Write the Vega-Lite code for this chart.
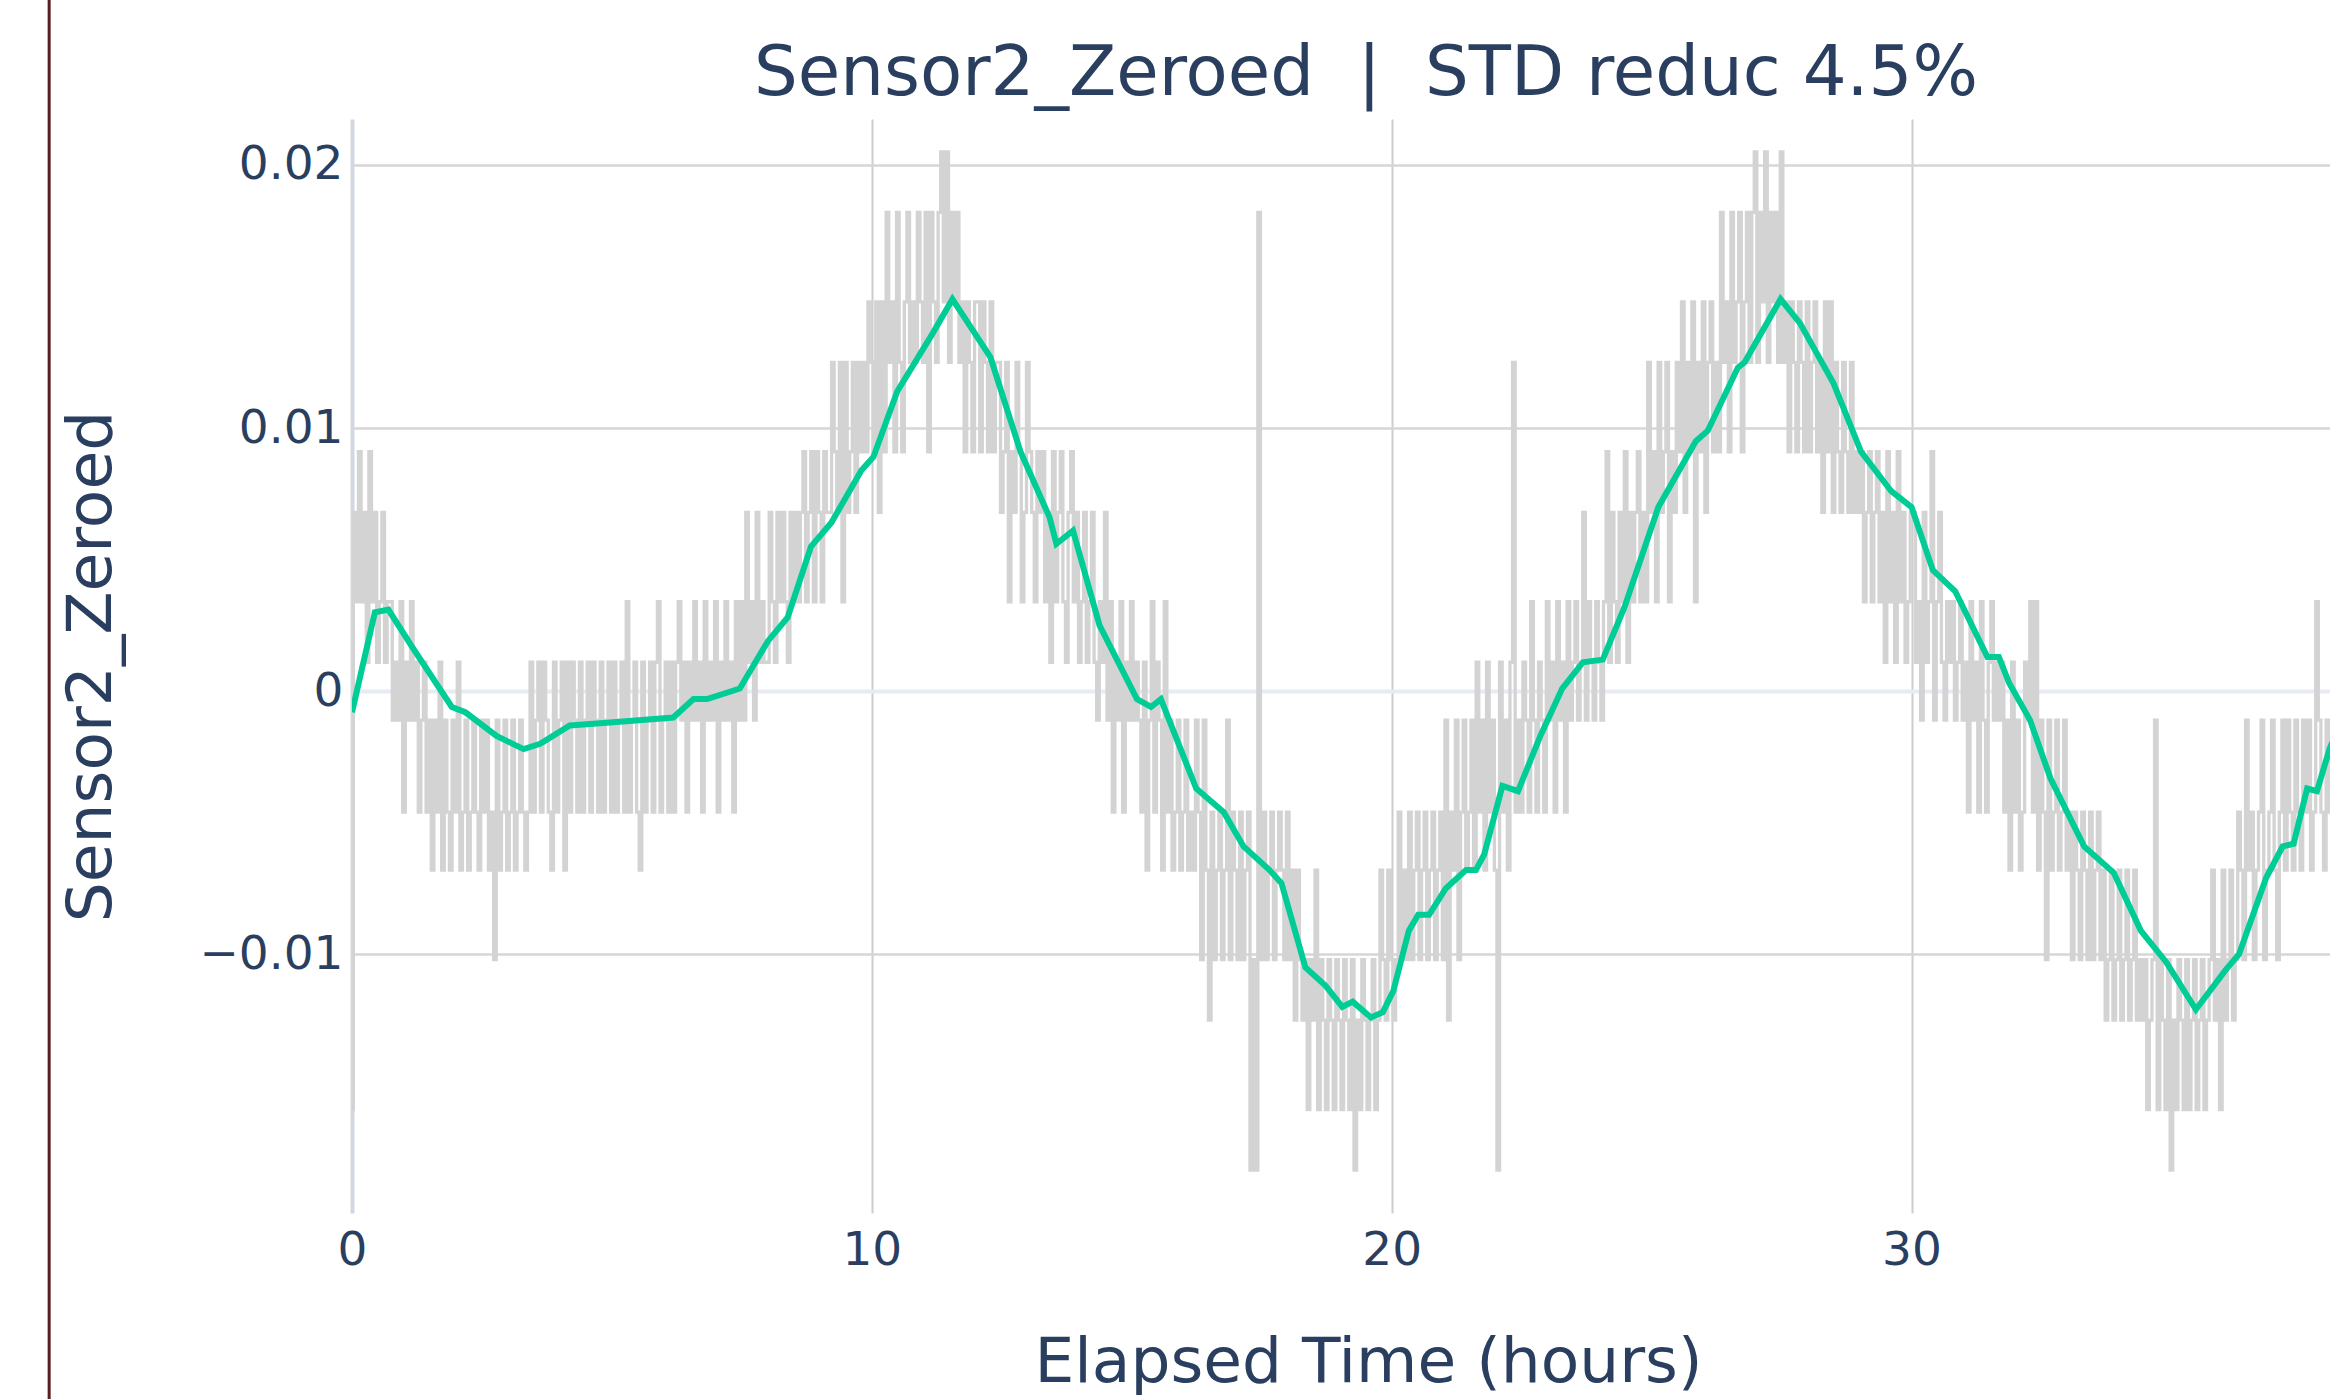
{
"$schema": "https://vega.github.io/schema/vega-lite/v6.json",
"width": 1978,
"height": 1094,
"autosize": {"type": "none"},
"padding": {"left": 352, "top": 119, "right": 0, "bottom": 186},
"background": "white",
"config": {"font": "DejaVu Sans", "view": {"stroke": null}},
"title": {"text": "Sensor2_Zeroed\u00a0\u00a0|\u00a0\u00a0STD reduc 4.5%", "fontSize": 69, "fontWeight": "normal", "color": "#2a3f5f", "font": "DejaVu Sans", "anchor": "middle", "dx": 25, "dy": 187, "baseline": "alphabetic", "offset": 21},
"datasets": {
"raw": [
{"t":0,"v":-0.0159},{"t":0.05,"v":0.0068},{"t":0.1,"v":0.0034},{"t":0.15,"v":0.0091},{"t":0.2,"v":0.0034},{"t":0.25,"v":0.0068},{"t":0.3,"v":0.0011},{"t":0.35,"v":0.0091},{"t":0.4,"v":0.0034},{"t":0.45,"v":0.0068},{"t":0.5,"v":0.0011},{"t":0.55,"v":0.0034},{"t":0.6,"v":0.0068},{"t":0.65,"v":0.0011},{"t":0.7,"v":0.0034},
{"t":0.75,"v":0.0034},{"t":0.8,"v":-0.0011},{"t":0.85,"v":0.0011},{"t":0.9,"v":-0.0011},{"t":0.95,"v":0.0034},{"t":1.0,"v":-0.0046},{"t":1.05,"v":0.0011},{"t":1.1,"v":-0.0011},{"t":1.15,"v":0.0034},{"t":1.2,"v":-0.0011},
{"t":1.25,"v":0.0011},{"t":1.3,"v":-0.0046},{"t":1.35,"v":-0.0011},{"t":1.4,"v":0.0011},{"t":1.45,"v":-0.0046},{"t":1.5,"v":-0.0011},{"t":1.55,"v":-0.0068},{"t":1.6,"v":-0.0011},{"t":1.65,"v":-0.0046},{"t":1.7,"v":0.0011},{"t":1.75,"v":-0.0068},{"t":1.8,"v":-0.0011},{"t":1.85,"v":-0.0046},{"t":1.9,"v":-0.0068},{"t":1.95,"v":-0.0011},{"t":2.0,"v":-0.0046},{"t":2.05,"v":0.0011},{"t":2.1,"v":-0.0068},{"t":2.15,"v":-0.0046},{"t":2.2,"v":-0.0011},{"t":2.25,"v":-0.0068},{"t":2.3,"v":-0.0046},{"t":2.35,"v":-0.0011},{"t":2.4,"v":-0.0046},{"t":2.45,"v":-0.0068},{"t":2.5,"v":-0.0011},{"t":2.55,"v":-0.0046},{"t":2.6,"v":-0.0011},{"t":2.65,"v":-0.0068},{"t":2.7,"v":-0.0046},{"t":2.75,"v":-0.0102},{"t":2.8,"v":-0.0011},{"t":2.85,"v":-0.0068},{"t":2.9,"v":-0.0046},{"t":2.95,"v":-0.0011},{"t":3.0,"v":-0.0068},{"t":3.05,"v":-0.0046},{"t":3.1,"v":-0.0011},{"t":3.15,"v":-0.0068},{"t":3.2,"v":-0.0046},{"t":3.25,"v":-0.0011},{"t":3.3,"v":-0.0046},{"t":3.35,"v":-0.0068},
{"t":3.4,"v":-0.0046},{"t":3.45,"v":0.0011},{"t":3.5,"v":-0.0046},{"t":3.55,"v":-0.0011},{"t":3.6,"v":0.0011},{"t":3.65,"v":-0.0046},{"t":3.7,"v":0.0011},{"t":3.75,"v":-0.0011},{"t":3.8,"v":-0.0046},{"t":3.85,"v":-0.0068},{"t":3.9,"v":0.0011},{"t":3.95,"v":-0.0046},{"t":4.0,"v":-0.0011},{"t":4.05,"v":0.0011},{"t":4.1,"v":-0.0068},{"t":4.15,"v":0.0011},{"t":4.2,"v":-0.0046},{"t":4.25,"v":0.0011},{"t":4.3,"v":-0.0011},{"t":4.35,"v":-0.0046},{"t":4.4,"v":0.0011},{"t":4.45,"v":-0.0046},{"t":4.5,"v":-0.0011},{"t":4.55,"v":0.0011},{"t":4.6,"v":-0.0046},{"t":4.65,"v":0.0011},{"t":4.7,"v":-0.0011},{"t":4.75,"v":-0.0046},{"t":4.8,"v":0.0011},{"t":4.85,"v":-0.0046},{"t":4.9,"v":-0.0011},{"t":4.95,"v":0.0011},{"t":5.0,"v":-0.0046},{"t":5.05,"v":0.0011},{"t":5.1,"v":-0.0046},{"t":5.15,"v":-0.0011},{"t":5.2,"v":0.0011},{"t":5.25,"v":-0.0046},{"t":5.3,"v":0.0034},{"t":5.35,"v":-0.0046},{"t":5.4,"v":-0.0011},{"t":5.45,"v":0.0011},{"t":5.5,"v":-0.0046},{"t":5.55,"v":-0.0068},{"t":5.6,"v":0.0011},{"t":5.65,"v":-0.0046},{"t":5.7,"v":-0.0011},{"t":5.75,"v":0.0011},{"t":5.8,"v":-0.0046},{"t":5.85,"v":0.0011},{"t":5.9,"v":0.0034},{"t":5.95,"v":-0.0046},{"t":6.0,"v":-0.0011},{"t":6.05,"v":0.0011},{"t":6.1,"v":-0.0046},{"t":6.15,"v":0.0011},{"t":6.2,"v":-0.0046},{"t":6.25,"v":0.0011},
{"t":6.3,"v":0.0034},{"t":6.35,"v":-0.0011},{"t":6.4,"v":0.0011},{"t":6.45,"v":-0.0046},{"t":6.5,"v":0.0011},{"t":6.55,"v":-0.0011},{"t":6.6,"v":0.0034},{"t":6.65,"v":-0.0011},{"t":6.7,"v":0.0011},{"t":6.75,"v":-0.0046},{"t":6.8,"v":0.0034},{"t":6.85,"v":-0.0011},{"t":6.9,"v":0.0011},{"t":6.95,"v":-0.0011},{"t":7.0,"v":0.0034},{"t":7.05,"v":-0.0046},{"t":7.1,"v":0.0011},{"t":7.15,"v":-0.0011},{"t":7.2,"v":0.0034},{"t":7.25,"v":-0.0011},{"t":7.3,"v":0.0011},{"t":7.35,"v":-0.0046},{"t":7.4,"v":0.0034},{"t":7.45,"v":-0.0011},
{"t":7.5,"v":0.0034},{"t":7.55,"v":-0.0011},{"t":7.6,"v":0.0068},{"t":7.65,"v":0.0011},{"t":7.7,"v":0.0034},{"t":7.75,"v":-0.0011},{"t":7.8,"v":0.0068},{"t":7.85,"v":0.0011},{"t":7.9,"v":0.0034},{"t":7.95,"v":0.0011},
{"t":8.0,"v":0.0011},{"t":8.05,"v":0.0068},{"t":8.1,"v":0.0034},{"t":8.15,"v":0.0011},{"t":8.2,"v":0.0068},{"t":8.25,"v":0.0034},{"t":8.3,"v":0.0068},{"t":8.35,"v":0.0034},{"t":8.4,"v":0.0011},{"t":8.45,"v":0.0068},{"t":8.5,"v":0.0034},{"t":8.55,"v":0.0068},{"t":8.6,"v":0.0034},{"t":8.65,"v":0.0068},
{"t":8.7,"v":0.0091},{"t":8.75,"v":0.0034},{"t":8.8,"v":0.0068},{"t":8.85,"v":0.0091},{"t":8.9,"v":0.0034},{"t":8.95,"v":0.0091},{"t":9.0,"v":0.0068},{"t":9.05,"v":0.0034},{"t":9.1,"v":0.0091},{"t":9.15,"v":0.0068},
{"t":9.2,"v":0.0068},{"t":9.25,"v":0.0125},{"t":9.3,"v":0.0091},{"t":9.35,"v":0.0068},{"t":9.4,"v":0.0125},{"t":9.45,"v":0.0034},{"t":9.5,"v":0.0125},{"t":9.55,"v":0.0068},{"t":9.6,"v":0.0091},{"t":9.65,"v":0.0125},{"t":9.7,"v":0.0068},{"t":9.75,"v":0.0125},{"t":9.8,"v":0.0091},{"t":9.85,"v":0.0125},
{"t":9.9,"v":0.0091},{"t":9.95,"v":0.0148},{"t":10.0,"v":0.0125},{"t":10.05,"v":0.0091},{"t":10.1,"v":0.0148},{"t":10.15,"v":0.0068},{"t":10.2,"v":0.0148},{"t":10.25,"v":0.0091},{"t":10.3,"v":0.0182},{"t":10.35,"v":0.0125},{"t":10.4,"v":0.0148},{"t":10.45,"v":0.0091},{"t":10.5,"v":0.0182},{"t":10.55,"v":0.0125},{"t":10.6,"v":0.0091},{"t":10.65,"v":0.0148},{"t":10.7,"v":0.0182},{"t":10.75,"v":0.0125},{"t":10.8,"v":0.0148},
{"t":10.85,"v":0.0125},{"t":10.9,"v":0.0182},{"t":10.95,"v":0.0148},{"t":11.0,"v":0.0125},{"t":11.05,"v":0.0182},{"t":11.1,"v":0.0091},{"t":11.15,"v":0.0182},{"t":11.2,"v":0.0148},{"t":11.25,"v":0.0125},{"t":11.3,"v":0.0182},{"t":11.35,"v":0.0205},{"t":11.4,"v":0.0148},{"t":11.45,"v":0.0205},{"t":11.5,"v":0.0125},{"t":11.55,"v":0.0182},{"t":11.6,"v":0.0148},
{"t":11.65,"v":0.0182},{"t":11.7,"v":0.0125},{"t":11.75,"v":0.0148},{"t":11.8,"v":0.0091},{"t":11.85,"v":0.0148},{"t":11.9,"v":0.0125},{"t":11.95,"v":0.0091},{"t":12.0,"v":0.0148},{"t":12.05,"v":0.0148},{"t":12.1,"v":0.0091},{"t":12.15,"v":0.0148},{"t":12.2,"v":0.0125},{"t":12.25,"v":0.0091},{"t":12.3,"v":0.0148},{"t":12.35,"v":0.0091},{"t":12.4,"v":0.0125},
{"t":12.45,"v":0.0125},{"t":12.5,"v":0.0068},{"t":12.55,"v":0.0091},{"t":12.6,"v":0.0125},{"t":12.65,"v":0.0034},{"t":12.7,"v":0.0091},{"t":12.75,"v":0.0068},{"t":12.8,"v":0.0125},{"t":12.85,"v":0.0091},{"t":12.9,"v":0.0034},{"t":12.95,"v":0.0068},{"t":13.0,"v":0.0125},{"t":13.05,"v":0.0091},{"t":13.1,"v":0.0068},{"t":13.15,"v":0.0034},{"t":13.2,"v":0.0091},{"t":13.25,"v":0.0068},
{"t":13.3,"v":0.0091},{"t":13.35,"v":0.0034},{"t":13.4,"v":0.0068},{"t":13.45,"v":0.0011},{"t":13.5,"v":0.0091},{"t":13.55,"v":0.0034},{"t":13.6,"v":0.0068},{"t":13.65,"v":0.0091},{"t":13.7,"v":0.0034},{"t":13.75,"v":0.0011},{"t":13.8,"v":0.0068},{"t":13.85,"v":0.0091},{"t":13.9,"v":0.0034},
{"t":13.95,"v":0.0068},{"t":14.0,"v":0.0011},{"t":14.05,"v":0.0034},{"t":14.1,"v":0.0068},{"t":14.15,"v":0.0011},{"t":14.2,"v":0.0034},
{"t":14.25,"v":0.0068},{"t":14.3,"v":0.0011},{"t":14.35,"v":-0.0011},{"t":14.4,"v":0.0034},{"t":14.45,"v":0.0011},{"t":14.5,"v":0.0068},{"t":14.55,"v":-0.0011},{"t":14.6,"v":0.0034},{"t":14.65,"v":-0.0046},{"t":14.7,"v":0.0011},{"t":14.75,"v":-0.0011},{"t":14.8,"v":0.0034},{"t":14.85,"v":-0.0046},{"t":14.9,"v":0.0011},{"t":14.95,"v":-0.0011},{"t":15.0,"v":0.0034},{"t":15.05,"v":-0.0011},{"t":15.1,"v":0.0011},
{"t":15.15,"v":-0.0011},{"t":15.2,"v":-0.0046},{"t":15.25,"v":0.0011},{"t":15.3,"v":-0.0068},{"t":15.35,"v":-0.0011},{"t":15.4,"v":0.0034},{"t":15.45,"v":-0.0046},{"t":15.5,"v":0.0011},{"t":15.55,"v":-0.0011},{"t":15.6,"v":-0.0068},{"t":15.65,"v":0.0034},{"t":15.7,"v":-0.0046},
{"t":15.75,"v":-0.0011},{"t":15.8,"v":-0.0068},{"t":15.85,"v":-0.0046},{"t":15.9,"v":-0.0011},{"t":15.95,"v":-0.0068},{"t":16.0,"v":-0.0046},{"t":16.05,"v":-0.0011},{"t":16.1,"v":-0.0068},{"t":16.15,"v":-0.0046},{"t":16.2,"v":-0.0068},{"t":16.25,"v":-0.0011},
{"t":16.3,"v":-0.0046},{"t":16.35,"v":-0.0102},{"t":16.4,"v":-0.0011},{"t":16.45,"v":-0.0068},{"t":16.5,"v":-0.0125},{"t":16.55,"v":-0.0046},{"t":16.6,"v":-0.0102},{"t":16.65,"v":-0.0068},{"t":16.7,"v":-0.0046},{"t":16.75,"v":-0.0102},{"t":16.8,"v":-0.0068},{"t":16.85,"v":-0.0011},{"t":16.9,"v":-0.0102},{"t":16.95,"v":-0.0046},{"t":17.0,"v":-0.0068},{"t":17.05,"v":-0.0102},{"t":17.1,"v":-0.0046},{"t":17.15,"v":-0.0102},{"t":17.2,"v":-0.0068},
{"t":17.25,"v":-0.0046},{"t":17.3,"v":-0.0182},{"t":17.35,"v":-0.0102},{"t":17.4,"v":-0.0182},{"t":17.45,"v":0.0182},{"t":17.5,"v":-0.0102},{"t":17.55,"v":-0.0046},{"t":17.6,"v":-0.0102},{"t":17.65,"v":-0.0068},{"t":17.7,"v":-0.0046},{"t":17.75,"v":-0.0102},{"t":17.8,"v":-0.0068},{"t":17.85,"v":-0.0046},
{"t":17.9,"v":-0.0068},{"t":17.95,"v":-0.0102},{"t":18.0,"v":-0.0046},{"t":18.05,"v":-0.0102},{"t":18.1,"v":-0.0068},{"t":18.15,"v":-0.0125},{"t":18.2,"v":-0.0068},{"t":18.25,"v":-0.0102},{"t":18.3,"v":-0.0125},{"t":18.35,"v":-0.0102},{"t":18.4,"v":-0.0159},{"t":18.45,"v":-0.0102},{"t":18.5,"v":-0.0125},{"t":18.55,"v":-0.0068},{"t":18.6,"v":-0.0159},{"t":18.65,"v":-0.0102},{"t":18.7,"v":-0.0125},{"t":18.75,"v":-0.0159},{"t":18.8,"v":-0.0102},{"t":18.85,"v":-0.0125},{"t":18.9,"v":-0.0159},{"t":18.95,"v":-0.0102},{"t":19.0,"v":-0.0125},{"t":19.05,"v":-0.0159},{"t":19.1,"v":-0.0102},{"t":19.15,"v":-0.0125},{"t":19.2,"v":-0.0159},{"t":19.25,"v":-0.0102},{"t":19.3,"v":-0.0182},{"t":19.35,"v":-0.0125},{"t":19.4,"v":-0.0159},{"t":19.45,"v":-0.0102},{"t":19.5,"v":-0.0125},{"t":19.55,"v":-0.0159},{"t":19.6,"v":-0.0125},{"t":19.65,"v":-0.0102},{"t":19.7,"v":-0.0159},
{"t":19.75,"v":-0.0125},{"t":19.8,"v":-0.0068},{"t":19.85,"v":-0.0102},{"t":19.9,"v":-0.0125},{"t":19.95,"v":-0.0068},{"t":20.0,"v":-0.0102},{"t":20.05,"v":-0.0125},
{"t":20.1,"v":-0.0102},{"t":20.15,"v":-0.0046},{"t":20.2,"v":-0.0102},{"t":20.25,"v":-0.0068},{"t":20.3,"v":-0.0102},{"t":20.35,"v":-0.0046},{"t":20.4,"v":-0.0102},{"t":20.45,"v":-0.0068},{"t":20.5,"v":-0.0046},{"t":20.55,"v":-0.0102},{"t":20.6,"v":-0.0068},{"t":20.65,"v":-0.0046},{"t":20.7,"v":-0.0102},{"t":20.75,"v":-0.0068},{"t":20.8,"v":-0.0046},{"t":20.85,"v":-0.0102},{"t":20.9,"v":-0.0068},{"t":20.95,"v":-0.0046},{"t":21.0,"v":-0.0102},{"t":21.05,"v":-0.0011},{"t":21.1,"v":-0.0125},{"t":21.15,"v":-0.0046},{"t":21.2,"v":-0.0068},{"t":21.25,"v":-0.0011},{"t":21.3,"v":-0.0102},{"t":21.35,"v":-0.0046},{"t":21.4,"v":-0.0011},{"t":21.45,"v":-0.0068},{"t":21.5,"v":-0.0046},{"t":21.55,"v":-0.0011},
{"t":21.6,"v":-0.0068},{"t":21.65,"v":0.0011},{"t":21.7,"v":-0.0046},{"t":21.75,"v":-0.0011},{"t":21.8,"v":-0.0068},{"t":21.85,"v":0.0011},{"t":21.9,"v":-0.0046},{"t":21.95,"v":-0.0011},{"t":22.0,"v":-0.0068},{"t":22.05,"v":-0.0182},{"t":22.1,"v":0.0011},{"t":22.15,"v":-0.0046},{"t":22.2,"v":-0.0011},{"t":22.25,"v":-0.0068},{"t":22.3,"v":0.0011},{"t":22.35,"v":0.0125},{"t":22.4,"v":-0.0046},{"t":22.45,"v":-0.0011},
{"t":22.5,"v":-0.0046},{"t":22.55,"v":0.0011},{"t":22.6,"v":-0.0011},{"t":22.65,"v":-0.0046},{"t":22.7,"v":0.0034},{"t":22.75,"v":-0.0011},{"t":22.8,"v":-0.0046},{"t":22.85,"v":0.0011},{"t":22.9,"v":-0.0011},{"t":22.95,"v":-0.0046},{"t":23.0,"v":0.0034},{"t":23.05,"v":-0.0011},{"t":23.1,"v":0.0011},{"t":23.15,"v":-0.0046},{"t":23.2,"v":0.0034},{"t":23.25,"v":-0.0011},{"t":23.3,"v":0.0011},{"t":23.35,"v":-0.0046},{"t":23.4,"v":0.0034},{"t":23.45,"v":-0.0011},{"t":23.5,"v":0.0011},{"t":23.55,"v":0.0034},{"t":23.6,"v":-0.0011},{"t":23.65,"v":0.0011},{"t":23.7,"v":0.0068},{"t":23.75,"v":-0.0011},{"t":23.8,"v":0.0034},{"t":23.85,"v":0.0011},{"t":23.9,"v":-0.0011},{"t":23.95,"v":0.0034},{"t":24.0,"v":0.0011},{"t":24.05,"v":-0.0011},
{"t":24.1,"v":0.0034},{"t":24.15,"v":0.0091},{"t":24.2,"v":0.0011},{"t":24.25,"v":0.0068},{"t":24.3,"v":0.0034},{"t":24.35,"v":0.0011},{"t":24.4,"v":0.0068},{"t":24.45,"v":0.0034},{"t":24.5,"v":0.0091},{"t":24.55,"v":0.0011},{"t":24.6,"v":0.0068},{"t":24.65,"v":0.0034},{"t":24.7,"v":0.0068},{"t":24.75,"v":0.0091},{"t":24.8,"v":0.0034},{"t":24.85,"v":0.0068},
{"t":24.9,"v":0.0034},{"t":24.95,"v":0.0125},{"t":25.0,"v":0.0068},{"t":25.05,"v":0.0091},{"t":25.1,"v":0.0034},{"t":25.15,"v":0.0125},{"t":25.2,"v":0.0068},{"t":25.25,"v":0.0091},{"t":25.3,"v":0.0125},{"t":25.35,"v":0.0034},{"t":25.4,"v":0.0091},{"t":25.45,"v":0.0068},{"t":25.5,"v":0.0125},
{"t":25.55,"v":0.0091},{"t":25.6,"v":0.0148},{"t":25.65,"v":0.0068},{"t":25.7,"v":0.0125},{"t":25.75,"v":0.0091},{"t":25.8,"v":0.0148},{"t":25.85,"v":0.0034},{"t":25.9,"v":0.0125},{"t":25.95,"v":0.0091},{"t":26.0,"v":0.0148},{"t":26.05,"v":0.0068},{"t":26.1,"v":0.0125},{"t":26.15,"v":0.0148},{"t":26.2,"v":0.0091},{"t":26.25,"v":0.0125},
{"t":26.3,"v":0.0091},{"t":26.35,"v":0.0182},{"t":26.4,"v":0.0125},{"t":26.45,"v":0.0148},{"t":26.5,"v":0.0091},{"t":26.55,"v":0.0182},{"t":26.6,"v":0.0125},{"t":26.65,"v":0.0148},{"t":26.7,"v":0.0182},{"t":26.75,"v":0.0091},{"t":26.8,"v":0.0148},{"t":26.85,"v":0.0182},{"t":26.9,"v":0.0125},{"t":26.95,"v":0.0182},{"t":27.0,"v":0.0205},{"t":27.05,"v":0.0125},{"t":27.1,"v":0.0182},{"t":27.15,"v":0.0148},{"t":27.2,"v":0.0205},{"t":27.25,"v":0.0125},{"t":27.3,"v":0.0182},{"t":27.35,"v":0.0148},{"t":27.4,"v":0.0182},{"t":27.45,"v":0.0125},
{"t":27.5,"v":0.0205},{"t":27.55,"v":0.0125},{"t":27.6,"v":0.0148},{"t":27.65,"v":0.0091},{"t":27.7,"v":0.0148},{"t":27.75,"v":0.0125},{"t":27.8,"v":0.0091},{"t":27.85,"v":0.0148},{"t":27.9,"v":0.0125},{"t":27.95,"v":0.0091},{"t":28.0,"v":0.0148},{"t":28.05,"v":0.0091},{"t":28.1,"v":0.0125},{"t":28.15,"v":0.0148},{"t":28.2,"v":0.0091},
{"t":28.25,"v":0.0125},{"t":28.3,"v":0.0068},{"t":28.35,"v":0.0148},{"t":28.4,"v":0.0091},{"t":28.45,"v":0.0148},{"t":28.5,"v":0.0068},{"t":28.55,"v":0.0125},{"t":28.6,"v":0.0091},{"t":28.65,"v":0.0068},{"t":28.7,"v":0.0125},{"t":28.75,"v":0.0091},{"t":28.8,"v":0.0068},{"t":28.85,"v":0.0125},{"t":28.9,"v":0.0068},{"t":28.95,"v":0.0091},{"t":29.0,"v":0.0068},
{"t":29.05,"v":0.0091},{"t":29.1,"v":0.0034},{"t":29.15,"v":0.0068},{"t":29.2,"v":0.0091},{"t":29.25,"v":0.0034},{"t":29.3,"v":0.0068},{"t":29.35,"v":0.0091},{"t":29.4,"v":0.0034},{"t":29.45,"v":0.0068},{"t":29.5,"v":0.0011},{"t":29.55,"v":0.0091},{"t":29.6,"v":0.0034},{"t":29.65,"v":0.0068},{"t":29.7,"v":0.0011},{"t":29.75,"v":0.0091},{"t":29.8,"v":0.0034},{"t":29.85,"v":0.0068},{"t":29.9,"v":0.0011},{"t":29.95,"v":0.0034},{"t":30.0,"v":0.0068},
{"t":30.05,"v":0.0068},{"t":30.1,"v":0.0011},{"t":30.15,"v":0.0034},{"t":30.2,"v":-0.0011},{"t":30.25,"v":0.0068},{"t":30.3,"v":0.0011},{"t":30.35,"v":0.0034},{"t":30.4,"v":0.0091},{"t":30.45,"v":-0.0011},{"t":30.5,"v":0.0034},{"t":30.55,"v":0.0068},{"t":30.6,"v":0.0011},{"t":30.65,"v":-0.0011},{"t":30.7,"v":0.0034},{"t":30.75,"v":0.0011},
{"t":30.8,"v":0.0034},{"t":30.85,"v":-0.0011},{"t":30.9,"v":0.0011},{"t":30.95,"v":0.0034},{"t":31.0,"v":-0.0011},{"t":31.05,"v":0.0011},{"t":31.1,"v":-0.0046},{"t":31.15,"v":0.0034},{"t":31.2,"v":-0.0011},{"t":31.25,"v":0.0011},{"t":31.3,"v":-0.0046},{"t":31.35,"v":0.0034},{"t":31.4,"v":-0.0011},{"t":31.45,"v":-0.0046},{"t":31.5,"v":0.0011},{"t":31.55,"v":0.0034},{"t":31.6,"v":-0.0011},{"t":31.65,"v":0.0011},
{"t":31.7,"v":-0.0011},{"t":31.75,"v":0.0011},{"t":31.8,"v":-0.0046},{"t":31.85,"v":-0.0011},{"t":31.9,"v":-0.0068},{"t":31.95,"v":0.0011},{"t":32.0,"v":-0.0046},{"t":32.05,"v":-0.0011},{"t":32.1,"v":-0.0068},{"t":32.15,"v":-0.0046},{"t":32.2,"v":0.0011},{"t":32.25,"v":-0.0011},{"t":32.3,"v":0.0034},{"t":32.35,"v":-0.0046},{"t":32.4,"v":0.0034},
{"t":32.45,"v":-0.0068},{"t":32.5,"v":-0.0011},{"t":32.55,"v":-0.0046},{"t":32.6,"v":-0.0102},{"t":32.65,"v":-0.0011},{"t":32.7,"v":-0.0068},{"t":32.75,"v":-0.0046},{"t":32.8,"v":-0.0011},{"t":32.85,"v":-0.0068},{"t":32.9,"v":-0.0046},{"t":32.95,"v":-0.0011},{"t":33.0,"v":-0.0068},{"t":33.05,"v":-0.0046},
{"t":33.1,"v":-0.0102},{"t":33.15,"v":-0.0046},{"t":33.2,"v":-0.0068},{"t":33.25,"v":-0.0102},{"t":33.3,"v":-0.0046},{"t":33.35,"v":-0.0068},{"t":33.4,"v":-0.0102},{"t":33.45,"v":-0.0046},{"t":33.5,"v":-0.0102},{"t":33.55,"v":-0.0068},{"t":33.6,"v":-0.0046},{"t":33.65,"v":-0.0102},
{"t":33.7,"v":-0.0068},{"t":33.75,"v":-0.0125},{"t":33.8,"v":-0.0102},{"t":33.85,"v":-0.0068},{"t":33.9,"v":-0.0125},{"t":33.95,"v":-0.0102},{"t":34.0,"v":-0.0068},{"t":34.05,"v":-0.0125},{"t":34.1,"v":-0.0102},{"t":34.15,"v":-0.0068},{"t":34.2,"v":-0.0125},{"t":34.25,"v":-0.0102},{"t":34.3,"v":-0.0068},{"t":34.35,"v":-0.0125},{"t":34.4,"v":-0.0102},{"t":34.45,"v":-0.0125},
{"t":34.5,"v":-0.0102},{"t":34.55,"v":-0.0159},{"t":34.6,"v":-0.0125},{"t":34.65,"v":-0.0102},{"t":34.7,"v":-0.0011},{"t":34.75,"v":-0.0159},{"t":34.8,"v":-0.0102},{"t":34.85,"v":-0.0125},{"t":34.9,"v":-0.0159},{"t":34.95,"v":-0.0102},{"t":35.0,"v":-0.0182},{"t":35.05,"v":-0.0125},{"t":35.1,"v":-0.0159},{"t":35.15,"v":-0.0102},{"t":35.2,"v":-0.0125},{"t":35.25,"v":-0.0159},{"t":35.3,"v":-0.0102},{"t":35.35,"v":-0.0159},{"t":35.4,"v":-0.0125},{"t":35.45,"v":-0.0102},{"t":35.5,"v":-0.0159},{"t":35.55,"v":-0.0125},{"t":35.6,"v":-0.0102},{"t":35.65,"v":-0.0159},{"t":35.7,"v":-0.0125},{"t":35.75,"v":-0.0102},
{"t":35.8,"v":-0.0068},{"t":35.85,"v":-0.0125},{"t":35.9,"v":-0.0102},{"t":35.95,"v":-0.0159},{"t":36.0,"v":-0.0068},{"t":36.05,"v":-0.0125},{"t":36.1,"v":-0.0102},{"t":36.15,"v":-0.0068},{"t":36.2,"v":-0.0125},
{"t":36.25,"v":-0.0102},{"t":36.3,"v":-0.0046},{"t":36.35,"v":-0.0068},{"t":36.4,"v":-0.0102},{"t":36.45,"v":-0.0011},{"t":36.5,"v":-0.0068},{"t":36.55,"v":-0.0046},{"t":36.6,"v":-0.0102},{"t":36.65,"v":-0.0068},{"t":36.7,"v":-0.0046},{"t":36.75,"v":-0.0011},{"t":36.8,"v":-0.0102},{"t":36.85,"v":-0.0068},{"t":36.9,"v":-0.0046},{"t":36.95,"v":-0.0011},{"t":37.0,"v":-0.0068},{"t":37.05,"v":-0.0102},{"t":37.1,"v":-0.0046},{"t":37.15,"v":-0.0011},
{"t":37.2,"v":-0.0068},{"t":37.25,"v":-0.0011},{"t":37.3,"v":-0.0046},{"t":37.35,"v":-0.0068},{"t":37.4,"v":-0.0011},{"t":37.45,"v":-0.0046},{"t":37.5,"v":-0.0068},{"t":37.55,"v":-0.0011},{"t":37.6,"v":-0.0046},{"t":37.65,"v":-0.0011},{"t":37.7,"v":-0.0068},{"t":37.75,"v":-0.0046},{"t":37.8,"v":0.0034},{"t":37.85,"v":-0.0011},{"t":37.9,"v":-0.0046},{"t":37.95,"v":-0.0068},{"t":38.0,"v":-0.0011},{"t":38.05,"v":-0.0046},{"t":38.1,"v":-0.0011}
],
"smooth": [
{"t":0,"v":-0.0008},{"t":0.44,"v":0.003},{"t":0.7,"v":0.0031},{"t":1.15,"v":0.0017},{"t":1.92,"v":-0.0006},{"t":2.18,"v":-0.0008},{"t":2.78,"v":-0.0017},{"t":3.3,"v":-0.0022},{"t":3.62,"v":-0.002},{"t":4.19,"v":-0.0013},{"t":4.9,"v":-0.0012},{"t":6.18,"v":-0.001},{"t":6.57,"v":-0.0003},{"t":6.83,"v":-0.0003},{"t":7.46,"v":0.0001},{"t":8.0,"v":0.0019},{"t":8.38,"v":0.0028},{"t":8.83,"v":0.0055},{"t":9.22,"v":0.0064},{"t":9.8,"v":0.0084},{"t":10.03,"v":0.0089},{"t":10.49,"v":0.0114},{"t":11.17,"v":0.0136},{"t":11.55,"v":0.0149},{"t":12.28,"v":0.0127},{"t":12.86,"v":0.0091},{"t":13.42,"v":0.0066},{"t":13.55,"v":0.0056},{"t":13.87,"v":0.0061},{"t":14.38,"v":0.0025},{"t":15.1,"v":-0.0003},{"t":15.37,"v":-0.0006},{"t":15.56,"v":-0.0003},{"t":16.24,"v":-0.0037},{"t":16.77,"v":-0.0046},{"t":17.15,"v":-0.0059},{"t":17.65,"v":-0.0068},{"t":17.88,"v":-0.0073},{"t":18.34,"v":-0.0105},{"t":18.73,"v":-0.0112},{"t":19.05,"v":-0.012},{"t":19.25,"v":-0.0118},{"t":19.6,"v":-0.0124},{"t":19.83,"v":-0.0122},{"t":20.03,"v":-0.0114},{"t":20.33,"v":-0.0091},{"t":20.51,"v":-0.0085},{"t":20.72,"v":-0.0085},{"t":21.04,"v":-0.0075},{"t":21.43,"v":-0.0068},{"t":21.62,"v":-0.0068},{"t":21.78,"v":-0.0062},{"t":22.13,"v":-0.0036},{"t":22.43,"v":-0.0038},{"t":22.86,"v":-0.0017},{"t":23.28,"v":0.0001},{"t":23.68,"v":0.0011},{"t":24.06,"v":0.0012},{"t":24.48,"v":0.0032},{"t":25.13,"v":0.007},{"t":25.85,"v":0.0095},{"t":26.08,"v":0.0099},{"t":26.66,"v":0.0123},{"t":26.79,"v":0.0125},{"t":27.48,"v":0.0149},{"t":27.85,"v":0.014},{"t":28.5,"v":0.0117},{"t":29.03,"v":0.0091},{"t":29.61,"v":0.0076},{"t":30.0,"v":0.007},{"t":30.41,"v":0.0046},{"t":30.84,"v":0.0038},{"t":31.46,"v":0.0013},{"t":31.68,"v":0.0013},{"t":31.88,"v":0.0003},{"t":32.28,"v":-0.0011},{"t":32.67,"v":-0.0033},{"t":33.32,"v":-0.0059},{"t":33.89,"v":-0.0069},{"t":34.41,"v":-0.0091},{"t":34.9,"v":-0.0103},{"t":35.47,"v":-0.0121},{"t":36.04,"v":-0.0106},{"t":36.3,"v":-0.01},{"t":36.82,"v":-0.0071},{"t":37.14,"v":-0.0059},{"t":37.35,"v":-0.0058},{"t":37.61,"v":-0.0037},{"t":37.8,"v":-0.0038},{"t":38.04,"v":-0.0022},{"t":38.3,"v":-0.001}
],
"border": [{"t": -5.826, "v": 0.026271, "v2": -0.0269}]
},
"layer": [
{"data": {"name": "raw"}, "mark": {"type": "line", "color": "#d3d3d3", "strokeWidth": 3.3, "interpolate": "step", "clip": true},
 "encoding": {
  "x": {"field": "t", "type": "quantitative",
   "scale": {"domain": [0, 38.05], "nice": false, "zero": false},
   "axis": {"values": [0, 10, 20, 30], "format": "d", "grid": true,
    "gridColor": {"condition": {"test": "datum.value === 0", "value": "#d3d8e0"}, "value": "#cdcdcd"},
    "gridWidth": {"condition": {"test": "datum.value === 0", "value": 4}, "value": 2},
    "domain": false, "ticks": false, "tickSize": 0, "labelFlush": false, "labelOverlap": false, "labelFontSize": 47, "labelFont": "DejaVu Sans", "labelColor": "#2a3f5f", "labelPadding": 14, "title": "Elapsed Time (hours)", "titleFontSize": 63, "titleFont": "DejaVu Sans", "titleFontWeight": "normal", "titleColor": "#2a3f5f", "titleX": 1016, "titleY": 168, "titleAlign": "center", "titleBaseline": "alphabetic"}},
  "y": {"field": "v", "type": "quantitative",
   "scale": {"domain": [-0.019833, 0.021748], "nice": false, "zero": false},
   "axis": {"values": [-0.01, 0, 0.01, 0.02], "format": "~g", "grid": true,
    "gridColor": {"condition": {"test": "datum.value === 0", "value": "#e6ebf4"}, "value": "#d6d6d6"},
    "gridWidth": {"condition": {"test": "datum.value === 0", "value": 4}, "value": 2.5},
    "domain": false, "ticks": false, "tickSize": 0, "labelOverlap": false, "labelFontSize": 47, "labelFont": "DejaVu Sans", "labelColor": "#2a3f5f", "labelPadding": 9, "title": "Sensor2_Zeroed", "titleFontSize": 63, "titleFont": "DejaVu Sans", "titleFontWeight": "normal", "titleColor": "#2a3f5f", "titleX": -242, "titleY": 547, "titleAngle": 270, "titleAlign": "center", "titleBaseline": "alphabetic"}}
 }},
{"data": {"name": "smooth"}, "mark": {"type": "line", "color": "#00cc96", "strokeWidth": 6, "clip": true},
 "encoding": {
  "x": {"field": "t", "type": "quantitative", "scale": {"domain": [0, 38.05], "nice": false, "zero": false}},
  "y": {"field": "v", "type": "quantitative", "scale": {"domain": [-0.019833, 0.021748], "nice": false, "zero": false}}
 }},
{"data": {"name": "border"}, "mark": {"type": "rule", "color": "#5a1e1e", "strokeWidth": 3, "clip": false},
 "encoding": {
  "x": {"field": "t", "type": "quantitative", "scale": {"domain": [0, 38.05], "nice": false, "zero": false}},
  "y": {"field": "v", "type": "quantitative", "scale": {"domain": [-0.019833, 0.021748], "nice": false, "zero": false}},
  "y2": {"field": "v2"}
 }}
]
}
